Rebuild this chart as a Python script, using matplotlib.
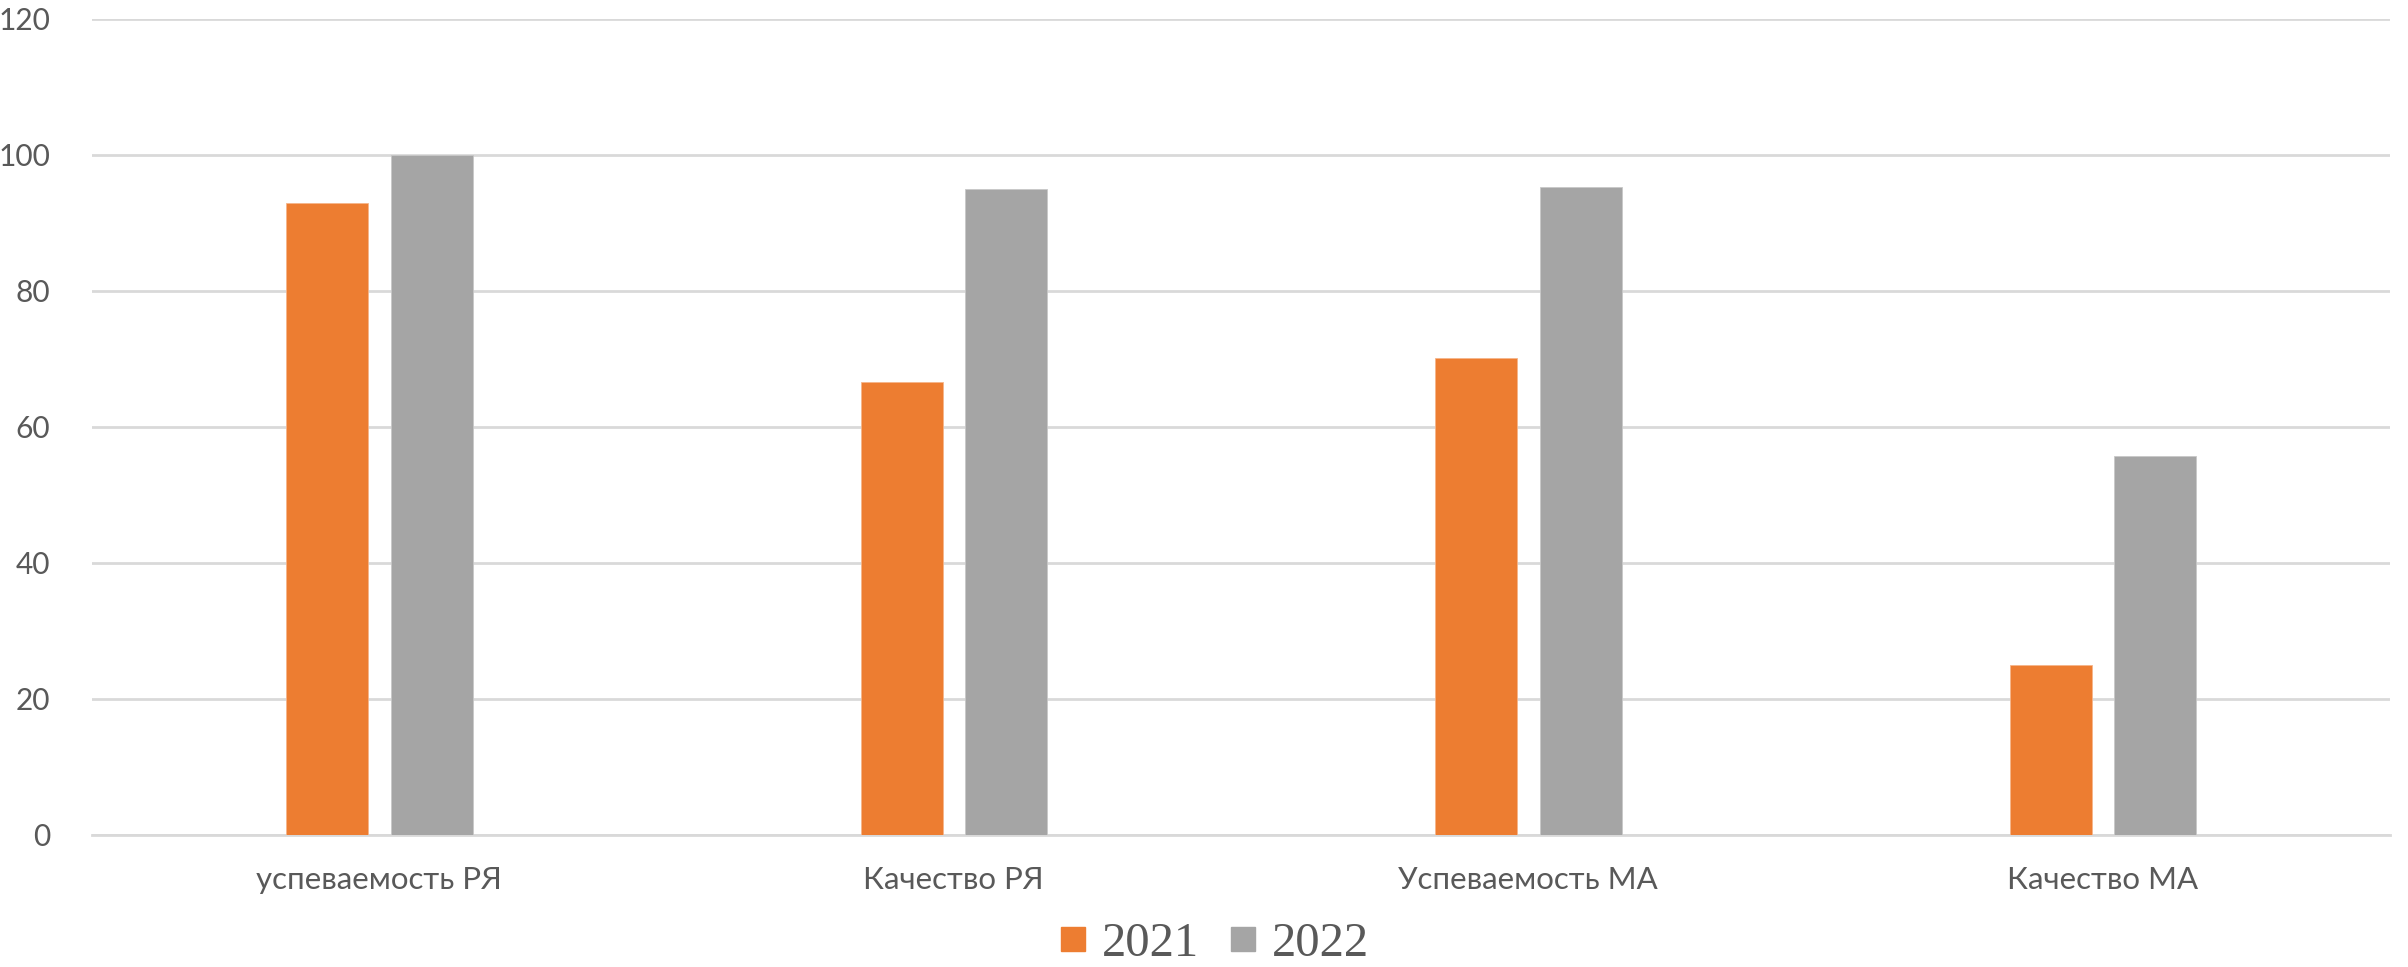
import matplotlib.pyplot as plt
from matplotlib.lines import Line2D
import numpy as np

categories = ['успеваемость РЯ', 'Качество РЯ', 'Успеваемость МА', 'Качество МА']
years = ['2021', '2022']
vals_2021 = [92.9, 66.6, 70.2, 25.0]
vals_2022 = [100.0, 95.0, 95.3, 55.7]

orange = '#ED7D31'
grey = '#A5A5A5'
txt = '#595959'

fig = plt.figure(figsize=(24.08, 9.67), dpi=100)
ax = fig.add_axes([92 / 2408, 132 / 967, 2298 / 2408, 816 / 967])

x = np.arange(len(categories))
w = 0.143
ax.bar(x - 0.0905, vals_2021, w, color=orange, edgecolor='#f5b58a', linewidth=0.6, zorder=3)
ax.bar(x + 0.0914, vals_2022, w, color=grey, edgecolor='#c8c8c8', linewidth=0.6, zorder=3)

ax.set_xlim(-0.5, len(categories) - 0.5)
ax.set_ylim(0, 120)
ax.set_yticks(range(0, 121, 20))
ax.grid(axis='y', color='#d9d9d9', linewidth=2, zorder=0)
for s in ['top', 'right', 'left']:
    ax.spines[s].set_visible(False)
ax.spines['bottom'].set_color('#d9d9d9')
ax.spines['bottom'].set_linewidth(2)
ax.tick_params(length=0, labelcolor=txt)
ax.tick_params(axis='y', pad=30, labelsize=21.5)
ax.tick_params(axis='x', pad=22, labelsize=22.5)
ax.set_xticks(x)
ax.set_xticklabels(categories, fontfamily='Lato')
for lab in ax.get_yticklabels():
    lab.set_fontfamily('Lato')

handles = [Line2D([], [], marker='s', linestyle='none', markersize=17, color=c) for c in (orange, grey)]
fig.legend(handles, years, loc='center', bbox_to_anchor=(1214 / 2408, 1 - 944 / 967),
           ncol=2, frameon=False, handletextpad=0.3, columnspacing=0.6, handlelength=0.6,
           prop={'family': 'Liberation Serif', 'size': 35}, labelcolor=txt)

fig.savefig('out.png', dpi=100)
